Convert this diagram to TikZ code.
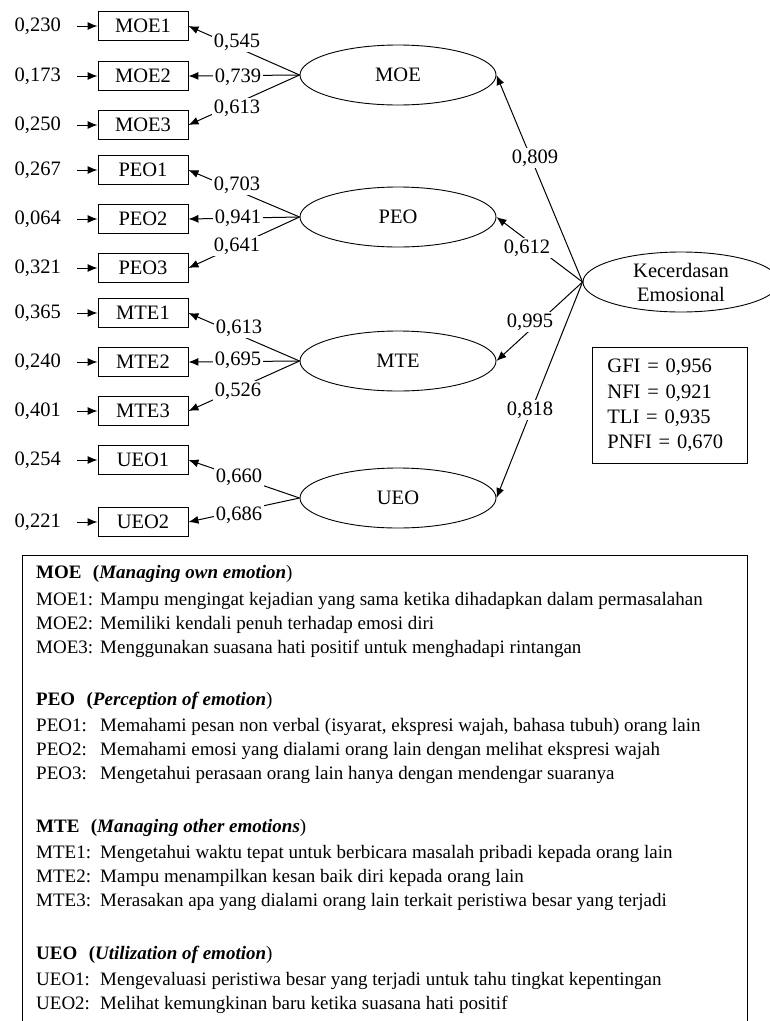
\documentclass[tikz,border=0pt]{standalone}
\usepackage{fontspec}
\setmainfont{Liberation Serif}
\usetikzlibrary{shapes.geometric,arrows.meta}
\newcommand{\itemtag}[1]{\makebox[64pt][l]{#1}}
\begin{document}
\begin{tikzpicture}[x=1pt,y=-1pt,
  every node/.style={font=\fontsize{20.5}{24}\selectfont, inner sep=0pt},
  ind/.style={draw, line width=0.9pt, minimum width=90pt, minimum height=29pt},
  lat/.style={draw, ellipse, line width=0.9pt, minimum width=196pt, minimum height=60pt},
  err/.style={anchor=east},
  lbl/.style={fill=white, inner sep=1.5pt},
  arr/.style={-{Latex[length=10pt,width=8pt]}, line width=1pt},
  errarr/.style={arr, shorten <=16pt},
  legend/.style={anchor=west, font=\fontsize{19}{24}\selectfont},
  item/.style={legend},
]
\useasboundingbox (0,0) rectangle (770,1021);

% observed indicators
\node[ind] (moe1) at (143,26)  {MOE1};
\node[ind] (moe2) at (143,76)  {MOE2};
\node[ind] (moe3) at (143,125) {MOE3};
\node[ind] (peo1) at (143,170) {PEO1};
\node[ind] (peo2) at (143,219) {PEO2};
\node[ind] (peo3) at (143,268) {PEO3};
\node[ind] (mte1) at (143,313) {MTE1};
\node[ind] (mte2) at (143,362) {MTE2};
\node[ind] (mte3) at (143,411) {MTE3};
\node[ind] (ueo1) at (143,460) {UEO1};
\node[ind] (ueo2) at (143,522) {UEO2};

% error variances
\node[err] (emoe1) at (61,26)  {0,230};
\node[err] (emoe2) at (61,76)  {0,173};
\node[err] (emoe3) at (61,125) {0,250};
\node[err] (epeo1) at (61,170) {0,267};
\node[err] (epeo2) at (61,219) {0,064};
\node[err] (epeo3) at (61,268) {0,321};
\node[err] (emte1) at (61,313) {0,365};
\node[err] (emte2) at (61,362) {0,240};
\node[err] (emte3) at (61,411) {0,401};
\node[err] (eueo1) at (61,460) {0,254};
\node[err] (eueo2) at (61,522) {0,221};
\foreach \n in {moe1,moe2,moe3,peo1,peo2,peo3,mte1,mte2,mte3,ueo1,ueo2}
  \draw[errarr] (e\n.east) -- (\n.west);

% latent constructs
\node[lat] (MOE) at (398,75)  {MOE};
\node[lat] (PEO) at (398,217) {PEO};
\node[lat] (MTE) at (398,361) {MTE};
\node[lat] (UEO) at (398,498) {UEO};
\node[lat, align=center] (KE) at (681,282) {Kecerdasan\\Emosional};

% loadings of indicators
\draw[arr] (MOE.west) -- (moe1.east);
\draw[arr] (MOE.west) -- (moe2.east);
\draw[arr] (MOE.west) -- (moe3.east);
\draw[arr] (PEO.west) -- (peo1.east);
\draw[arr] (PEO.west) -- (peo2.east);
\draw[arr] (PEO.west) -- (peo3.east);
\draw[arr] (MTE.west) -- (mte1.east);
\draw[arr] (MTE.west) -- (mte2.east);
\draw[arr] (MTE.west) -- (mte3.east);
\draw[arr] (UEO.west) -- (ueo1.east);
\draw[arr] (UEO.west) -- (ueo2.east);

\node[lbl] (lmoe1) at (237,42)  {0,545};
\node[lbl] (lmoe2) at (238,77)  {0,739};
\node[lbl] (lmoe3) at (237,108) {0,613};
\node[lbl] (lpeo1) at (237,185) {0,703};
\node[lbl] (lpeo2) at (238,218) {0,941};
\node[lbl] (lpeo3) at (237,246) {0,641};
\node[lbl] (lmte1) at (239,328) {0,613};
\node[lbl] (lmte2) at (238,360) {0,695};
\node[lbl] (lmte3) at (238,391) {0,526};
\node[lbl] (lueo1) at (239,477) {0,660};
\node[lbl] (lueo2) at (239,515) {0,686};

% second-order loadings
\draw[arr] (KE.west) -- (MOE.east);
\draw[arr] (KE.west) -- (PEO.east);
\draw[arr] (KE.west) -- (MTE.east);
\draw[arr] (KE.west) -- (UEO.east);
\node[lbl] (lMOE) at (535,158) {0,809};
\node[lbl] (lPEO) at (527,248) {0,612};
\node[lbl] (lMTE) at (530,322) {0,995};
\node[lbl] (lUEO) at (530,410) {0,818};

% goodness of fit
\node[draw, line width=0.9pt, anchor=north west, minimum width=155pt, minimum height=116pt,
      text width=125pt, inner xsep=15pt, align=left,
      font=\fontsize{20.5}{25.3}\selectfont] (fit) at (592,347)
  {GFI = 0,956\\NFI = 0,921\\TLI = 0,935\\PNFI = 0,670};

% indicator legend
\draw[line width=1pt] (22,1021) -- (22,555) -- (747,555) -- (747,1021);
\node[legend] (hmoe) at (36,574) {{\bfseries MOE\hspace{.6em}(\itshape Managing own emotion})};
\node[item] (tmoe1) at (36,601) {\itemtag{MOE1:}Mampu mengingat kejadian yang sama ketika dihadapkan dalam permasalahan};
\node[item] (tmoe2) at (36,625) {\itemtag{MOE2:}Memiliki kendali penuh terhadap emosi diri};
\node[item] (tmoe3) at (36,649) {\itemtag{MOE3:}Menggunakan suasana hati positif untuk menghadapi rintangan};
\node[legend] (hpeo) at (36,701) {{\bfseries PEO\hspace{.6em}(\itshape Perception of emotion})};
\node[item] (tpeo1) at (36,727) {\itemtag{PEO1:}Memahami pesan non verbal (isyarat, ekspresi wajah, bahasa tubuh) orang lain};
\node[item] (tpeo2) at (36,751) {\itemtag{PEO2:}Memahami emosi yang dialami orang lain dengan melihat ekspresi wajah};
\node[item] (tpeo3) at (36,775) {\itemtag{PEO3:}Mengetahui perasaan orang lain hanya dengan mendengar suaranya};
\node[legend] (hmte) at (36,828) {{\bfseries MTE\hspace{.6em}(\itshape Managing other emotions})};
\node[item] (tmte1) at (36,854) {\itemtag{MTE1:}Mengetahui waktu tepat untuk berbicara masalah pribadi kepada orang lain};
\node[item] (tmte2) at (36,878) {\itemtag{MTE2:}Mampu menampilkan kesan baik diri kepada orang lain};
\node[item] (tmte3) at (36,902) {\itemtag{MTE3:}Merasakan apa yang dialami orang lain terkait peristiwa besar yang terjadi};
\node[legend] (hueo) at (36,955) {{\bfseries UEO\hspace{.6em}(\itshape Utilization of emotion})};
\node[item] (tueo1) at (36,981) {\itemtag{UEO1:}Mengevaluasi peristiwa besar yang terjadi untuk tahu tingkat kepentingan};
\node[item] (tueo2) at (36,1005) {\itemtag{UEO2:}Melihat kemungkinan baru ketika suasana hati positif};
\end{tikzpicture}
\end{document}
